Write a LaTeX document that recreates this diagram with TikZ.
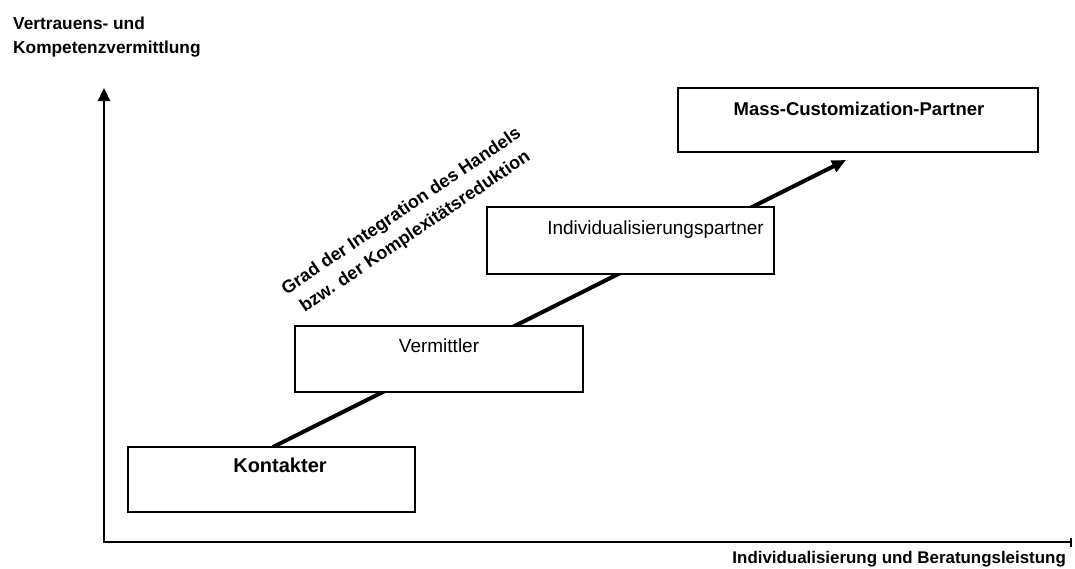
\documentclass[tikz,border=0pt]{standalone}
\usepackage{fontspec}
\setmainfont{Liberation Sans}
\usetikzlibrary{arrows.meta}
\begin{document}
\begin{tikzpicture}[x=1pt,y=-1pt,
  axisline/.style={line width=2.3pt},
  trendline/.style={line width=4pt,-{Triangle[length=14pt,width=12pt]}},
  stagebox/.style={draw,line width=1.5pt,fill=white,inner sep=0pt,outer sep=0pt,
    anchor=north west},
  stagetext/.style={anchor=base,inner sep=0pt,font=\fontsize{19}{23}\selectfont},
  stagebold/.style={anchor=base,inner sep=0pt,font=\bfseries\fontsize{18.5}{23}\selectfont},
  axislabel/.style={inner sep=0pt,font=\bfseries\fontsize{17.3}{23.5}\selectfont}]
\useasboundingbox (0,0) rectangle (1075,568);

% axes
\coordinate (origin) at (104,542);
\coordinate (ytop) at (104,88);
\coordinate (xend) at (1072,542);
\draw[axisline,{Triangle[length=13pt,width=12pt]}-{Bar[width=9pt]}]
  (ytop) -- (origin) -- (xend);

\node[axislabel,anchor=north west,align=left] (ylabel) at (13,17)
  {Vertrauens- und\\Kompetenzvermittlung};
\node[axislabel,anchor=base east,font=\bfseries\fontsize{16.9}{23}\selectfont]
  (xlabel) at (1066,563) {Individualisierung und Beratungsleistung};

% trend arrow, partly covered by the boxes
\coordinate (trendstart) at (273,447);
\coordinate (trendend) at (846,160);
\draw[trendline] (trendstart) -- (trendend);

\node[inner sep=0pt,rotate=34,align=center,
  font=\bfseries\fontsize{18}{24.5}\selectfont] (trendlabel) at (408.5,222)
  {Grad der Integration des Handels\\bzw. der Komplexitätsreduktion};

% stages
\node[stagebox,minimum width=287pt,minimum height=65pt] (kon) at (128,447) {};
\node[stagebox,minimum width=288pt,minimum height=66pt] (ver) at (295,326) {};
\node[stagebox,minimum width=287pt,minimum height=67pt] (ind) at (487,207) {};
\node[stagebox,minimum width=360pt,minimum height=64pt] (mcp) at (678,88) {};

\node[stagebold,font=\bfseries\fontsize{20}{23}\selectfont] (kontext) at (280,472) {Kontakter};
\node[stagetext] (vertext) at (439,352) {Vermittler};
\node[stagetext] (indtext) at (655.5,234) {Individualisierungspartner};
\node[stagebold] (mcptext) at (859,115) {Mass-Customization-Partner};
\end{tikzpicture}
\end{document}
